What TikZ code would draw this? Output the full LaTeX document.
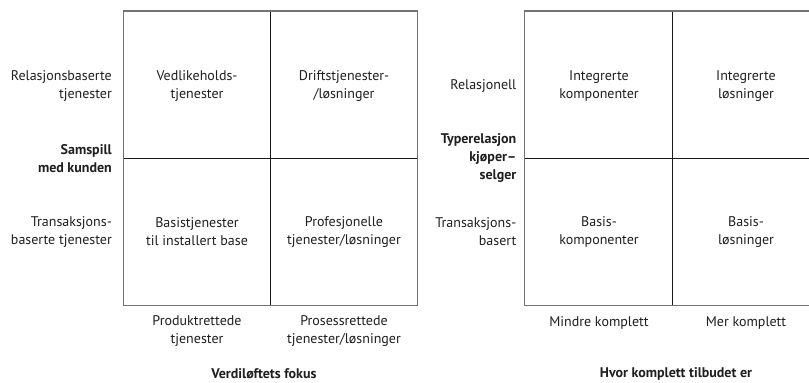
\documentclass[tikz,border=0pt]{standalone}
\usepackage{fontspec}
\setmainfont{PT Sans}
\begin{document}
\begin{tikzpicture}[x=1pt,y=-1pt,
  frame/.style={draw=black!55,line width=1.4pt},
  divider/.style={draw=black!90,line width=0.9pt},
  lbl/.style={inner sep=0pt,text=black!88,font=\fontsize{14}{18}\selectfont},
  cell/.style={lbl,align=center},
  rowlbl/.style={lbl,align=right,anchor=east},
  axis/.style={lbl,align=right,anchor=east,font=\fontsize{14}{18}\selectfont\bfseries},
  title/.style={lbl,align=center,font=\fontsize{14}{18}\selectfont\bfseries}]
\useasboundingbox (0,0) rectangle (809,383);
\clip (0,0) rectangle (809,383);
\fill[white] (0,0) rectangle (809,383);

% ---- left matrix: service offerings ----
\coordinate (L1) at (123.5,11);
\coordinate (L2) at (417.5,305.5);
\draw[divider] (270.5,11) -- (270.5,305.5);
\draw[divider] (123.5,158.5) -- (417.5,158.5);
\draw[frame] (L1) rectangle (L2);

\node[rowlbl] (lr1) at (112,86) {Relasjonsbaserte\\tjenester};
\node[axis]   (lax) at (112,158.5) {Samspill\\med kunden};
\node[rowlbl] (lr2) at (112,232) {Transaksjons-\\baserte tjenester};

\node[cell] (l11) at (197,86)  {Vedlikeholds-\\tjenester};
\node[cell] (l12) at (344,86)  {Driftstjenester-\\/løsninger};
\node[cell] (l21) at (197,232) {Basistjenester\\til installert base};
\node[cell] (l22) at (344,232) {Profesjonelle\\tjenester/løsninger};

\node[cell] (lc1) at (197,331) {Produktrettede\\tjenester};
\node[cell] (lc2) at (344,331) {Prosessrettede\\tjenester/løsninger};
\node[title] (ltitle) at (264,374) {Verdiløftets fokus};

% ---- right matrix: offering completeness ----
\coordinate (R1) at (524.5,11);
\coordinate (R2) at (820.5,305.5);
\draw[divider] (672.5,11) -- (672.5,305.5);
\draw[divider] (524.5,158.5) -- (820.5,158.5);
\draw[frame] (R1) rectangle (R2);

\node[rowlbl] (rr1) at (516.5,86) {Relasjonell};
\node[axis]   (rax) at (516.5,158.5) {Typerelasjon\\kjøper–\\selger};
\node[rowlbl] (rr2) at (516.5,232) {Transaksjons-\\basert};

\node[cell] (r11) at (599,86)  {Integrerte\\komponenter};
\node[cell] (r12) at (746,86)  {Integrerte\\løsninger};
\node[cell] (r21) at (599,232) {Basis-\\komponenter};
\node[cell] (r22) at (746,232) {Basis-\\løsninger};

\node[cell] (rc1) at (599,323) {Mindre komplett};
\node[cell] (rc2) at (746,323) {Mer komplett};
\node[title] (rtitle) at (676,374) {Hvor komplett tilbudet er};
\end{tikzpicture}
\end{document}
